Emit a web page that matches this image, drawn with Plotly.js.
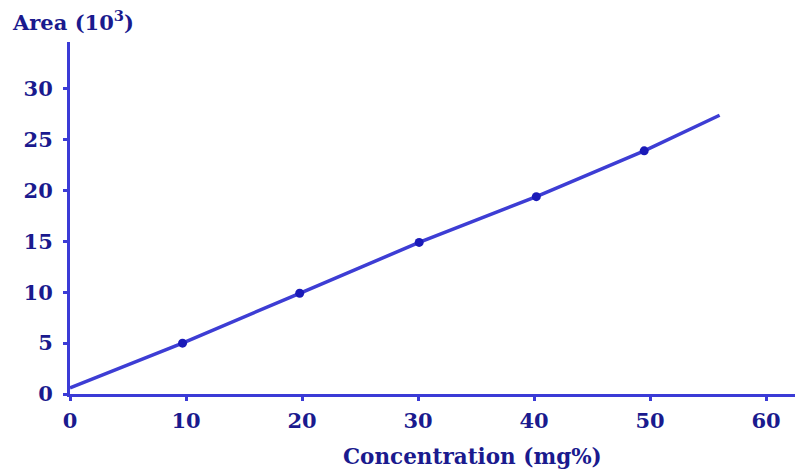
<!DOCTYPE html>
<html>
<head>
<meta charset="utf-8">
<script src="https://cdn.plot.ly/plotly-3.0.1.min.js"></script>
<style>html,body{margin:0;padding:0;background:#fff;}#chart{width:795px;height:475px;}</style>
</head>
<body>
<div id="chart"></div>
<script>
// Calibration line (fitted line drawn through the points)
const lineX = [0, 9.7, 19.8, 30.1, 40.2, 49.5, 56];
const lineY = [0.6, 5.0, 9.9, 14.9, 19.4, 23.9, 27.4];
// Measured points
const pointX = [9.7, 19.8, 30.1, 40.2, 49.5];
const pointY = [5.0, 9.9, 14.9, 19.4, 23.9];
const xTicks = [0, 10, 20, 30, 40, 50, 60];
const yTicks = [0, 5, 10, 15, 20, 25, 30];

const axisColor = '#3b3bd6';
const textColor = '#1a1a8e';
const family = '"DejaVu Serif", "Liberation Serif", serif';
const font = {family: family, size: 21, color: textColor, weight: 'bold'};

const traces = [
  {x: lineX, y: lineY, mode: 'lines', line: {color: '#3d3dd4', width: 3.5}, hoverinfo: 'skip'},
  {x: pointX, y: pointY, mode: 'markers', marker: {color: '#1a1ab8', size: 9, symbol: 'circle'}}
];

const layout = {
  width: 795, height: 475,
  margin: {l: 70, r: 0, t: 42, b: 81},
  paper_bgcolor: '#fff', plot_bgcolor: '#fff',
  showlegend: false,
  font: font,
  xaxis: {
    range: [0, 62.5], tickvals: xTicks, ticktext: xTicks.map(String),
    showgrid: false, zeroline: false, showline: true, linecolor: axisColor, linewidth: 3,
    ticks: 'outside', ticklen: 4, tickwidth: 3, tickcolor: axisColor,
    tickfont: font, ticklabelstandoff: 2
  },
  yaxis: {
    range: [0, 34.6], tickvals: yTicks, ticktext: yTicks.map(String),
    showgrid: false, zeroline: false, showline: true, linecolor: axisColor, linewidth: 3,
    ticks: 'outside', ticklen: 4, tickwidth: 3, tickcolor: axisColor,
    tickfont: font, ticklabelstandoff: 6
  },
  annotations: [
    {xref: 'paper', yref: 'paper', x: -0.083, y: 1.06, xanchor: 'left', yanchor: 'middle',
     text: 'Area (10<sup>3</sup>)', showarrow: false,
     font: {family: family, size: 21, color: textColor, weight: 'bold'}},
    {xref: 'paper', yref: 'paper', x: 0.555, y: -0.178, xanchor: 'center', yanchor: 'middle',
     text: 'Concentration (mg%)', showarrow: false,
     font: {family: family, size: 21.5, color: textColor, weight: 'bold'}}
  ]
};

Plotly.newPlot('chart', traces, layout, {displayModeBar: false, staticPlot: true});
</script>
</body>
</html>
